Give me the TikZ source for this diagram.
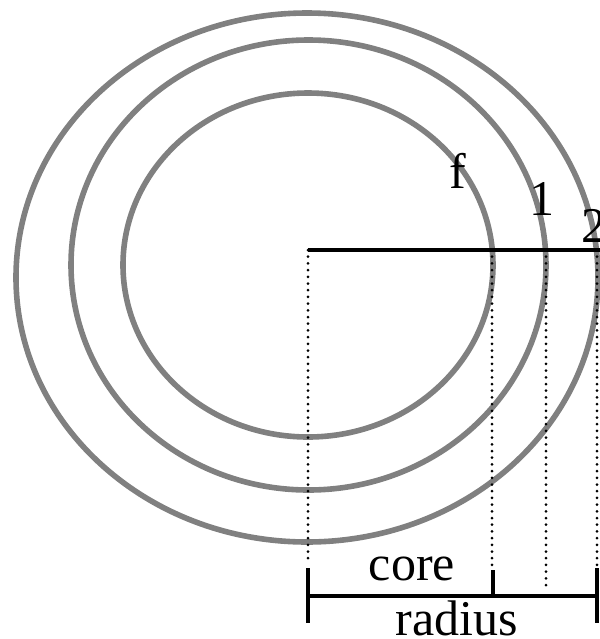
\documentclass[tikz,border=0pt]{standalone}
\usepackage{fontspec}
\setmainfont{Liberation Serif}
\usepackage{xcolor}
\definecolor{ringgray}{RGB}{128,128,128}

\begin{document}
\begin{tikzpicture}[x=0.5pt, y=-0.5pt,
		ring/.style={draw=ringgray, line width=2.8pt},   %Ringe
		dotline/.style={line width=1.5pt, line cap=round, dash pattern=on 0pt off 3.35pt},
		bar/.style={line width=1.6pt},
		lbl/.style={anchor=base, inner sep=0pt},
		font=\fontsize{25}{30}\selectfont]
		\useasboundingbox (0,0) rectangle (600,639);
		%Ringe zeichnen
		\draw[ring] (308,265) ellipse [x radius=185, y radius=172];
		\draw[ring] (308.5,265) ellipse [x radius=237.5, y radius=225];
		\draw[ring] (307,277.5) ellipse [x radius=291, y radius=264.5];
		% Radien
		\coordinate (o) at (308,250);
		\coordinate (rf) at (492,250);
		\coordinate (r1) at (546,250);
		\coordinate (r2) at (597,250);
		\draw[bar] (o) -- ++(292,0);
		\foreach \p/\l in {o/313, rf/317, r1/340, r2/317} \draw[dotline] (\p) -- ++(0,\l);
		% Massstab unten
		\coordinate (b0) at (308,596);
		\coordinate (bf) at (493,596);
		\coordinate (b2) at (597,596);
		\draw[bar] (b0) -- (b2);
		\draw[bar] (b0) ++(0,-28) -- ++(0,55);
		\draw[bar] (b2) ++(0,-28) -- ++(0,55);
		\draw[bar] (bf) -- ++(0,-26);
		%Beschriftung
		\node[lbl] (lf) at (458,188) {f};
		\node[lbl] (l1) at (542,215) {1};
		\node[lbl] (l2) at (594,242) {2};
		\node[lbl] (core) at (412,580) {core};
		\node[lbl] (radius) at (457,635) {radius};
	\end{tikzpicture}
\end{document}
